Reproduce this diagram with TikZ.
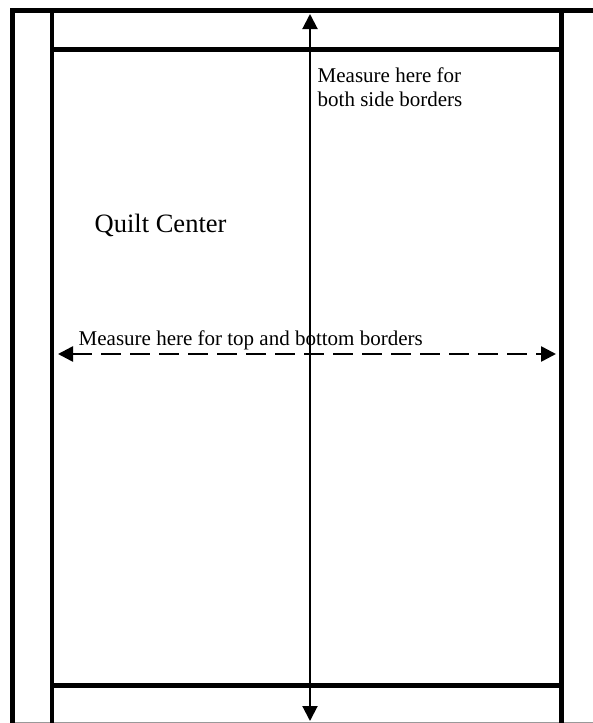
\documentclass[tikz,border=0pt]{standalone}
\usepackage{fontspec}
\setmainfont{Liberation Serif}
\usetikzlibrary{arrows.meta}
\tikzset{
  border/.style={line width=4.6pt, line cap=rect},
  measurearrow/.style={line width=2pt, {Triangle[length=15pt,width=15pt]}-{Triangle[length=15pt,width=15pt]}},
  dashedarrow/.style={measurearrow, line width=2.6pt, dash pattern=on 20pt off 9pt},
  smalllabel/.style={inner sep=0pt, anchor=base west, font=\fontsize{21}{23}\selectfont},
  biglabel/.style={inner sep=0pt, anchor=base west, font=\fontsize{26.5}{30}\selectfont}
}
\begin{document}
\begin{tikzpicture}[x=1pt,y=-1pt]
\useasboundingbox (0,0) rectangle (592,723);
% outer frame (cropped)
\draw[line width=0.8pt, black!40] (12.5,722.6) -- (595,722.6);
\draw[border] (12.5,10.5) -- (600,10.5);
\draw[border, line cap=butt] (12.5,8.2) -- (12.5,730);
% inner frame
\draw[border, line cap=butt] (52,10.5) -- (52,730);
\draw[border, line cap=butt] (561.5,10.5) -- (561.5,730);
\draw[border, line cap=butt] (52,49.5) -- (561.5,49.5);
\draw[border, line cap=butt] (52,685.5) -- (561.5,685.5);
% arrows
\coordinate (vtop) at (310,14);
\coordinate (vbot) at (310,721);
\coordinate (hleft) at (58,354);
\coordinate (hright) at (556,354);
\draw[measurearrow] (vtop) -- (vbot);
\draw[dashedarrow] (hleft) -- (hright);
% labels
\node[smalllabel] (side1) at (317.5,82.7) {Measure here for};
\node[smalllabel] (side2) at (317.5,106) {both side borders};
\node[biglabel] (center) at (94.5,232) {Quilt Center};
\node[smalllabel] (topbot) at (78.5,345) {Measure here for top and bottom borders};
\end{tikzpicture}
\end{document}
